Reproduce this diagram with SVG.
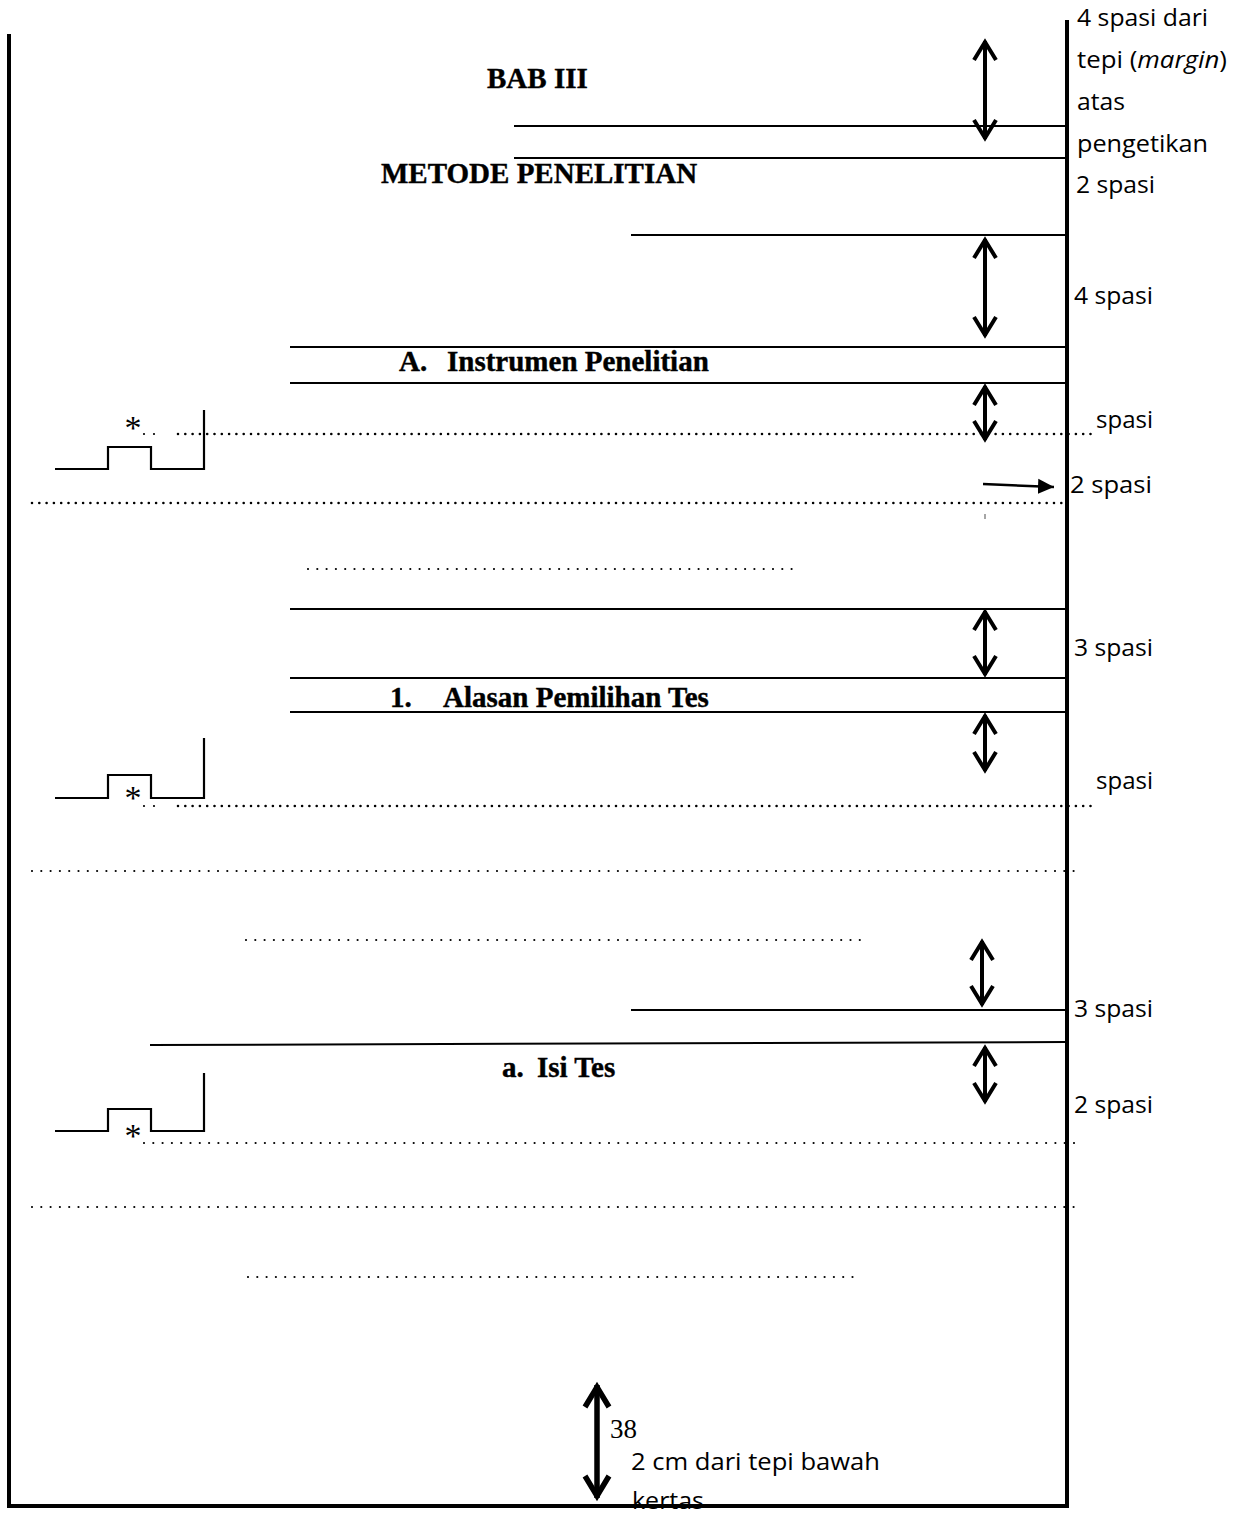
<svg xmlns="http://www.w3.org/2000/svg" width="1242" height="1513" viewBox="0 0 1242 1513">
<style>
.frame{stroke:#000;stroke-width:4;fill:none;stroke-linecap:square}
.rule{stroke:#000;stroke-width:2;fill:none}
.step{stroke:#000;stroke-width:2.2;fill:none}
.dense{stroke:#000;stroke-width:2.6;stroke-dasharray:0 7.3;stroke-linecap:round;fill:none}
.sparse{stroke:#000;stroke-width:2.2;stroke-dasharray:0 9.3;stroke-linecap:round;fill:none}
.dbl{stroke:#000;stroke-width:4;fill:none;marker-start:url(#chev);marker-end:url(#chev)}
.big{stroke:#000;stroke-width:5.5;fill:none;marker-start:url(#chevBig);marker-end:url(#chevBig)}
.head{font-family:"Liberation Serif","Times New Roman",serif;font-weight:bold;font-size:29px;fill:#000;stroke:#000;stroke-width:0.4}
.note{font-family:"Open Sans","Liberation Sans",sans-serif;font-size:24px;fill:#000}
.ser{font-family:"Liberation Serif","Times New Roman",serif;font-size:27px;fill:#000}
.star{font-family:"Liberation Serif","Times New Roman",serif;font-size:34px;fill:#000}
</style>
<defs>
<marker id="chev" viewBox="-24 -14 28 28" refX="0" refY="0" markerWidth="28" markerHeight="28" markerUnits="userSpaceOnUse" orient="auto-start-reverse">
<path d="M-19,-11 L-1,0 L-19,11" fill="none" stroke="#000" stroke-width="4" stroke-linejoin="miter"/>
</marker>
<marker id="chevBig" viewBox="-28 -16 32 32" refX="0" refY="0" markerWidth="32" markerHeight="32" markerUnits="userSpaceOnUse" orient="auto-start-reverse">
<path d="M-22,-12 L-2,0 L-22,12" fill="none" stroke="#000" stroke-width="5.5" stroke-linejoin="miter"/>
</marker>
<marker id="tri" viewBox="0 -8 18 16" refX="16" refY="0" markerWidth="18" markerHeight="16" markerUnits="userSpaceOnUse" orient="auto">
<path d="M0,-7.5 L16,0 L0,7.5 Z" fill="#000"/>
</marker>
</defs>

<g id="page-frame">
<line class="frame" x1="9" y1="36" x2="9" y2="1506"/>
<line class="frame" x1="9" y1="1506" x2="1067" y2="1506"/>
<line class="frame" x1="1067" y1="22" x2="1067" y2="1506"/>
</g>

<g id="rules">
<line class="rule" x1="514" y1="126" x2="1066" y2="126"/>
<line class="rule" x1="514" y1="158" x2="1066" y2="158"/>
<line class="rule" x1="631" y1="235" x2="1066" y2="235"/>
<line class="rule" x1="290" y1="347" x2="1066" y2="347"/>
<line class="rule" x1="290" y1="383" x2="1066" y2="383"/>
<line class="rule" x1="290" y1="609" x2="1066" y2="609"/>
<line class="rule" x1="290" y1="678" x2="1066" y2="678"/>
<line class="rule" x1="290" y1="712" x2="1066" y2="712"/>
<line class="rule" x1="631" y1="1010" x2="1066" y2="1010"/>
<line class="rule" x1="150" y1="1045" x2="1066" y2="1042"/>
</g>

<g id="dotted-lines">
<line class="sparse" x1="144" y1="434" x2="164" y2="434" style="stroke-dasharray:0 10"/>
<line class="dense" x1="178" y1="434" x2="1092" y2="434"/>
<line class="dense" x1="32" y1="503" x2="1065" y2="503"/>
<line class="sparse" x1="308" y1="569" x2="800" y2="569"/>
<line class="sparse" x1="144" y1="806" x2="164" y2="806" style="stroke-dasharray:0 10"/>
<line class="dense" x1="178" y1="806" x2="1092" y2="806"/>
<line class="sparse" x1="32" y1="871" x2="1080" y2="871"/>
<line class="sparse" x1="246" y1="940" x2="866" y2="940"/>
<line class="sparse" x1="144" y1="1143" x2="1075" y2="1143"/>
<line class="sparse" x1="32" y1="1207" x2="1080" y2="1207"/>
<line class="sparse" x1="248" y1="1277" x2="860" y2="1277"/>
</g>

<g id="indent-mark-1">
<polyline class="step" points="55,469 108,469 108,447 151,447 151,469 204,469"/>
<line class="step" x1="204" y1="410" x2="204" y2="470"/>
<text class="star" x="133" y="439" text-anchor="middle">*</text>
</g>
<g id="indent-mark-2">
<polyline class="step" points="55,798 108,798 108,775 151,775 151,798 204,798"/>
<line class="step" x1="204" y1="738" x2="204" y2="799"/>
<text class="star" x="133" y="809" text-anchor="middle">*</text>
</g>
<g id="indent-mark-3">
<polyline class="step" points="55,1131 108,1131 108,1109 151,1109 151,1131 204,1131"/>
<line class="step" x1="204" y1="1073" x2="204" y2="1132"/>
<text class="star" x="133" y="1147" text-anchor="middle">*</text>
</g>

<g id="heading-bab">
<text class="head" x="487" y="88">BAB III</text>
</g>
<g id="heading-metode">
<text class="head" x="381" y="183">METODE PENELITIAN</text>
</g>
<g id="heading-a">
<text class="head" x="399" y="371">A.</text>
<text class="head" x="447" y="371">Instrumen Penelitian</text>
</g>
<g id="heading-1">
<text class="head" x="390" y="707">1.</text>
<text class="head" x="443" y="707">Alasan Pemilihan Tes</text>
</g>
<g id="heading-a-small">
<text class="head" x="502" y="1077">a.</text>
<text class="head" x="537" y="1077">Isi Tes</text>
</g>

<g id="connectors">
<line class="dbl" x1="985" y1="41" x2="985" y2="139"/>
<line class="dbl" x1="985" y1="239" x2="985" y2="336"/>
<line class="dbl" x1="985" y1="386" x2="985" y2="440"/>
<line class="dbl" x1="985" y1="611" x2="985" y2="675"/>
<line class="dbl" x1="985" y1="715" x2="985" y2="771"/>
<line class="dbl" x1="982" y1="941" x2="982" y2="1005"/>
<line class="dbl" x1="985" y1="1047" x2="985" y2="1102"/>
<line class="big" x1="597" y1="1385" x2="597" y2="1498"/>
<line stroke="#000" stroke-width="2.5" x1="983" y1="484" x2="1054" y2="487" marker-end="url(#tri)"/>
<line stroke="#888" stroke-width="1.5" x1="985" y1="514" x2="985" y2="519"/>
</g>

<g id="label-top-margin">
<text class="note" x="1077" y="26" textLength="131" lengthAdjust="spacingAndGlyphs">4 spasi dari</text>
<text class="note" x="1077" y="68" textLength="150" lengthAdjust="spacingAndGlyphs">tepi (<tspan font-style="italic">margin</tspan>)</text>
<text class="note" x="1077" y="110" textLength="48" lengthAdjust="spacingAndGlyphs">atas</text>
<text class="note" x="1077" y="152" textLength="131" lengthAdjust="spacingAndGlyphs">pengetikan</text>
<text class="note" x="1076" y="193" textLength="79" lengthAdjust="spacingAndGlyphs">2 spasi</text>
</g>
<g id="label-4spasi"><text class="note" x="1074" y="304" textLength="79" lengthAdjust="spacingAndGlyphs">4 spasi</text></g>
<g id="label-spasi-1"><text class="note" x="1096" y="428" textLength="57" lengthAdjust="spacingAndGlyphs">spasi</text></g>
<g id="label-2spasi-1"><text class="note" x="1070" y="493" textLength="82" lengthAdjust="spacingAndGlyphs">2  spasi</text></g>
<g id="label-3spasi-1"><text class="note" x="1074" y="656" textLength="79" lengthAdjust="spacingAndGlyphs">3 spasi</text></g>
<g id="label-spasi-2"><text class="note" x="1096" y="789" textLength="57" lengthAdjust="spacingAndGlyphs">spasi</text></g>
<g id="label-3spasi-2"><text class="note" x="1074" y="1017" textLength="79" lengthAdjust="spacingAndGlyphs">3 spasi</text></g>
<g id="label-2spasi-2"><text class="note" x="1074" y="1113" textLength="79" lengthAdjust="spacingAndGlyphs">2 spasi</text></g>
<g id="page-number"><text class="ser" x="610" y="1438">38</text></g>
<g id="label-bottom-margin">
<text class="note" x="631" y="1470" textLength="249" lengthAdjust="spacingAndGlyphs">2 cm dari tepi bawah</text>
<text class="note" x="632" y="1509" textLength="72" lengthAdjust="spacingAndGlyphs">kertas</text>
</g>
</svg>
